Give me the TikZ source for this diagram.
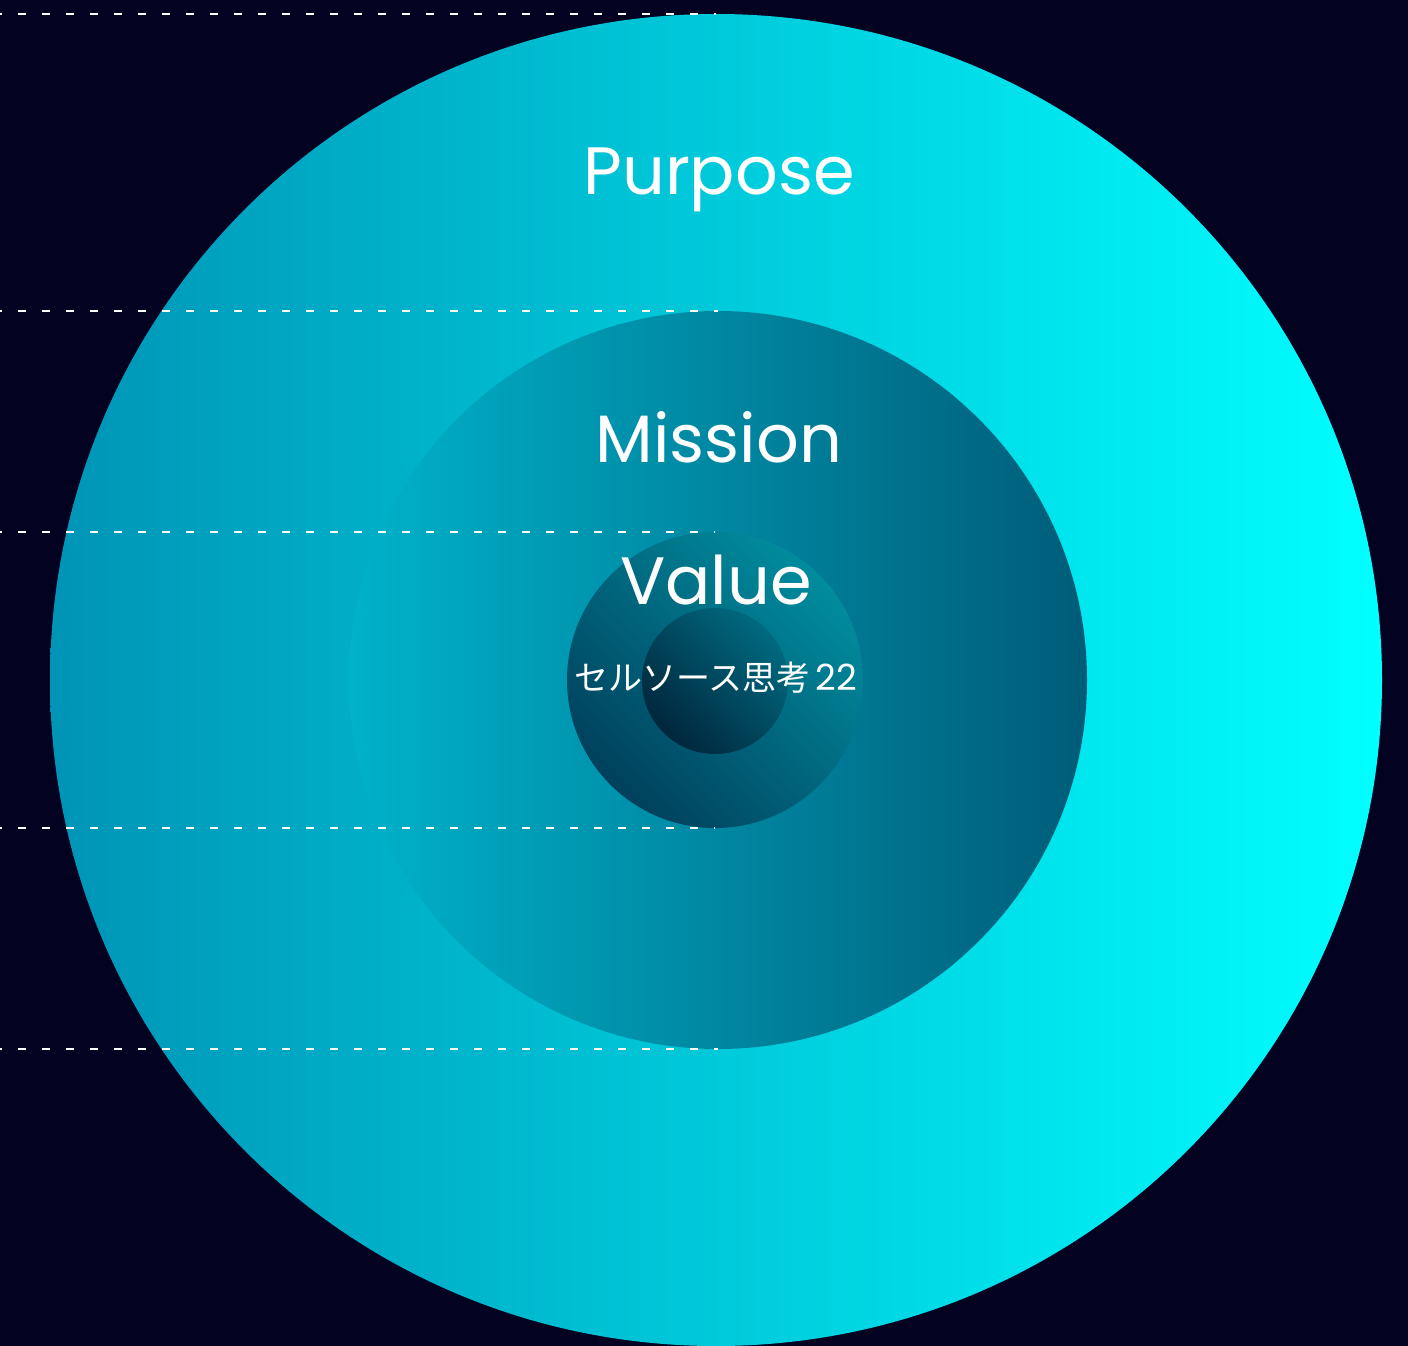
\documentclass[tikz,border=0pt]{standalone}
\usepackage{fontspec}
\setmainfont{Poppins}
\newfontfamily\cjk{Noto Sans CJK JP}
\definecolor{bg}{HTML}{030220}
\definecolor{pL}{HTML}{0094B6}
\definecolor{pR}{HTML}{00FFFF}
\definecolor{mL}{HTML}{00B2CA}
\definecolor{mR}{HTML}{005C79}
\definecolor{vT}{HTML}{008C9E}
\definecolor{vB}{HTML}{00405C}
\definecolor{cT}{HTML}{006A80}
\definecolor{cB}{HTML}{00263C}
\tikzset{
  ring/.style={circle, inner sep=0pt, outer sep=0pt, draw=none},
  guide/.style={draw=white, line width=1.6pt, dash pattern=on 8pt off 16pt, dash phase=6pt},
  bigtext/.style={text=white, font=\fontsize{67}{67}\selectfont, anchor=base, inner sep=0pt},
  jptext/.style={text=white, font=\fontsize{34}{34}\selectfont, anchor=base, inner sep=0pt}
}
\begin{document}
\begin{tikzpicture}[x=1pt,y=-1pt]
\fill[bg] (0,0) rectangle (1408,1346);
\useasboundingbox (0,0) rectangle (1408,1346);
\node[ring, minimum size=1332pt, left color=pL, right color=pR] (purpose) at (716,680) {};
\node[ring, minimum size=738pt, left color=mL, right color=mR] (mission) at (718,680) {};
\node[ring, minimum size=296pt, top color=vT, bottom color=vB, shading angle=-45] (value) at (715,680) {};
\node[ring, minimum size=146pt, top color=cT, bottom color=cB, shading angle=-45] (core) at (715,681) {};
\coordinate (edge) at (0,0);
\draw[guide] (purpose.north -| edge) -- (purpose.north);
\draw[guide] (mission.north -| edge) -- (mission.north);
\draw[guide] (value.north -| edge) -- (value.north);
\draw[guide] (value.south -| edge) -- (value.south);
\draw[guide] (mission.south -| edge) -- (mission.south);
\node[bigtext] (tpurpose) at (719,194) {Purpose};
\node[bigtext] (tmission) at (719,462) {Mission};
\node[bigtext] (tvalue) at (716,604) {Value};
\node[jptext] (tcore) at (716,690) {{\cjk セルソース思考}\hspace{5pt}{\fontsize{36}{36}\selectfont 22}};
\end{tikzpicture}
\end{document}
